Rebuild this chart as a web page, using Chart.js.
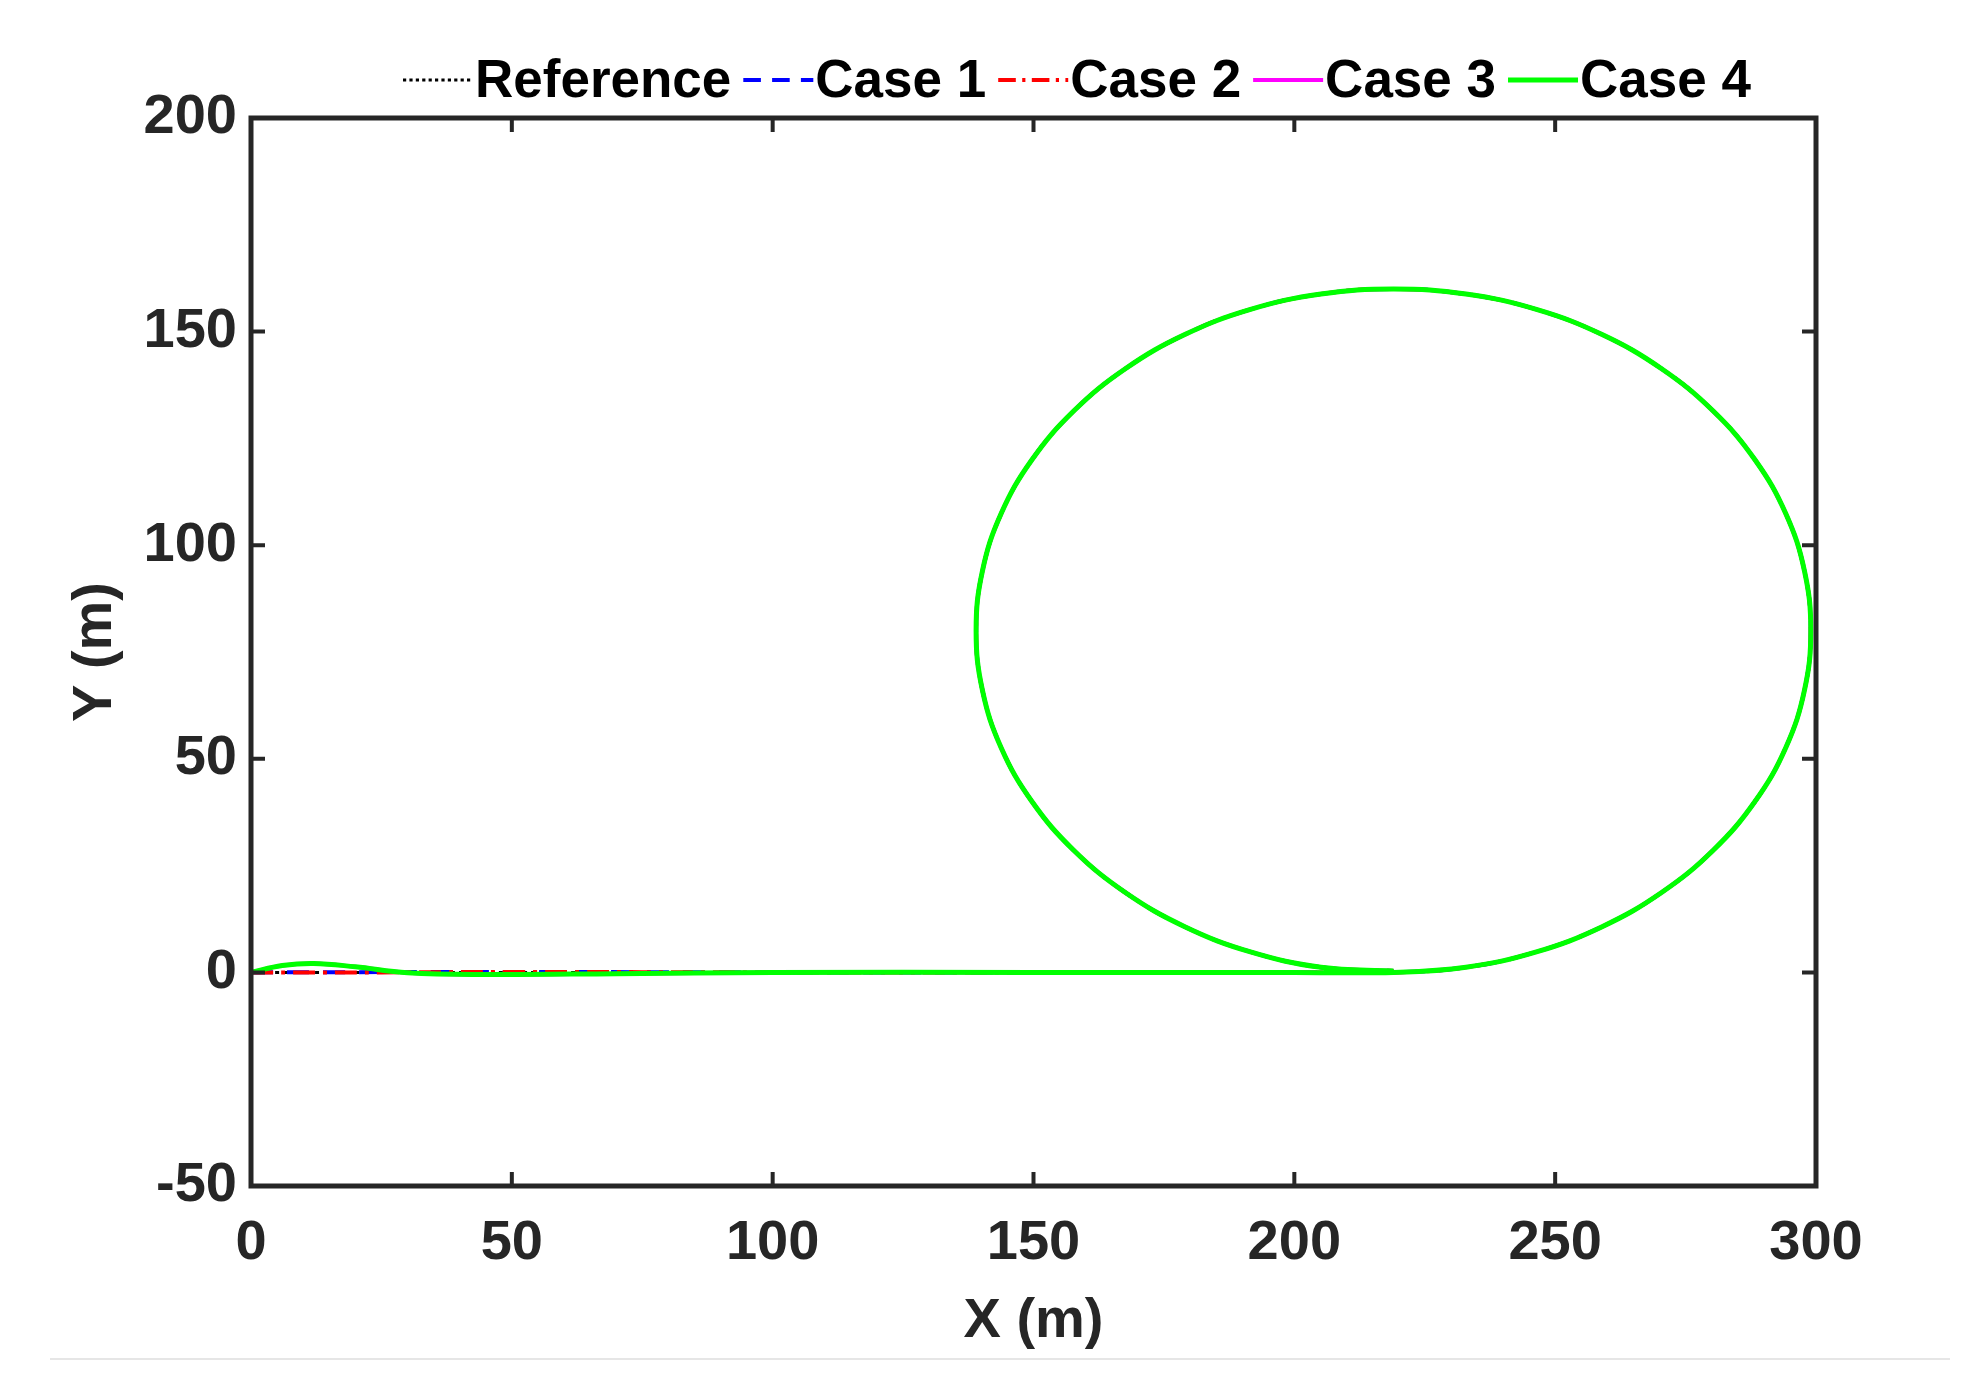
<!DOCTYPE html>
<html>
<head>
<meta charset="utf-8">
<script src="https://cdn.jsdelivr.net/npm/chart.js@4"></script>
<style>
  html, body { margin: 0; padding: 0; background: #fff; }
  #wrap { width: 1978px; height: 1391px; position: relative; }
</style>
</head>
<body>
<div id="wrap"><canvas id="pathChart"></canvas></div>
<script>
// ===================== DATA =====================
const seriesNames = ["Reference", "Case 1", "Case 2", "Case 3", "Case 4"];
const xTicks = [0, 50, 100, 150, 200, 250, 300];
const yTicks = [-50, 0, 50, 100, 150, 200];

// shared loop
const loopX = [219, 232.9, 246.4, 259, 270.4, 280.3, 288.3, 294.2, 297.8, 299,
               297.8, 294.2, 288.3, 280.3, 270.4, 259, 246.4, 232.9, 219,
               205.1, 191.6, 179, 167.6, 157.7, 149.7, 143.8, 140.2, 139,
               140.2, 143.8, 149.7, 157.7, 167.6, 179, 191.6, 205.1, 219];
const loopY = [0, 1.2, 4.8, 10.7, 18.7, 28.6, 40, 52.6, 66.1, 80,
               93.9, 107.4, 120, 131.4, 141.3, 149.3, 155.2, 158.8, 160,
               158.8, 155.2, 149.3, 141.3, 131.4, 120, 107.4, 93.9, 80,
               66.1, 52.6, 40, 28.6, 18.7, 10.7, 4.8, 1.2, 0.3];

// straight start segments
const refStartX = [0, 50, 100, 150, 200];
const refStartY = [0, 0, 0, 0, 0];
const case1StartX = [0, 50, 100, 150, 200];
const case1StartY = [0, 0.1, 0, 0, 0];
const case2StartX = [0, 25, 50, 100, 150, 200];
const case2StartY = [0, 0, 0.1, 0, 0, 0];
const case3StartX = [0, 6, 12, 20, 30, 45, 70, 100, 150, 200];
const case3StartY = [0, 1.6, 2.1, 1.3, -0.1, -0.5, -0.3, 0, 0, 0];
const case4StartX = [0, 6, 12, 20, 30, 45, 70, 100, 150, 200];
const case4StartY = [0, 1.6, 2.1, 1.3, -0.1, -0.5, -0.3, 0, 0, 0];

function toPoints(xs, ys) {
    const pts = xs.map((x, i) => ({ x: x, y: ys[i] }));
    return pts.concat(loopX.map((x, i) => ({ x: x, y: loopY[i] })));
}

const styles = [
    { color: "#000000", dash: [4, 4], width: 3 },
    { color: "#0000ff", dash: [22, 14], width: 4 },
    { color: "#ff0000", dash: [22, 8, 4, 8], width: 4 },
    { color: "#ff00ff", dash: [], width: 4 },
    { color: "#00ff00", dash: [], width: 5 }
];

const starts = [
    [refStartX, refStartY], [case1StartX, case1StartY], [case2StartX, case2StartY],
    [case3StartX, case3StartY], [case4StartX, case4StartY]
];

const FONT = "'Liberation Sans', Arial, sans-serif";
const PLOT = { left: 251, top: 118, right: 1816, bottom: 1186 };

// ===================== FRAME + LEGEND PLUGIN =====================
const framePlugin = {
    id: "frame",
    afterDraw(chart) {
        const ctx = chart.ctx;
        const a = chart.chartArea;
        const xs = chart.scales.x, ys = chart.scales.y;
        ctx.save();
        ctx.strokeStyle = "#262626";
        ctx.lineWidth = 5;
        ctx.setLineDash([]);
        ctx.strokeRect(a.left, a.top, a.right - a.left, a.bottom - a.top);
        ctx.lineWidth = 4;
        const tl = 14;
        xTicks.forEach(v => {
            const px = xs.getPixelForValue(v);
            ctx.beginPath();
            ctx.moveTo(px, a.bottom); ctx.lineTo(px, a.bottom - tl);
            ctx.moveTo(px, a.top); ctx.lineTo(px, a.top + tl);
            ctx.stroke();
        });
        yTicks.forEach(v => {
            const py = ys.getPixelForValue(v);
            ctx.beginPath();
            ctx.moveTo(a.left, py); ctx.lineTo(a.left + tl, py);
            ctx.moveTo(a.right, py); ctx.lineTo(a.right - tl, py);
            ctx.stroke();
        });

        // legend
        ctx.font = "bold 53px " + FONT;
        ctx.textBaseline = "middle";
        let x = 403;
        const ly = 80;
        seriesNames.forEach((name, i) => {
            const s = styles[i];
            ctx.strokeStyle = s.color;
            ctx.lineWidth = s.width;
            ctx.setLineDash(s.dash.length ? s.dash.map(d => d * 0.8) : []);
            ctx.beginPath();
            ctx.moveTo(x, ly); ctx.lineTo(x + 70, ly);
            ctx.stroke();
            ctx.setLineDash([]);
            ctx.fillStyle = "#000";
            ctx.fillText(name, x + 72, ly + 2);
            x += 72 + ctx.measureText(name).width + 12;
        });

        // faint bottom rule
        ctx.strokeStyle = "#e6e6e6";
        ctx.lineWidth = 2;
        ctx.beginPath();
        ctx.moveTo(50, 1359); ctx.lineTo(1950, 1359);
        ctx.stroke();
        ctx.restore();
    }
};

// ===================== CHART =====================
new Chart(document.getElementById("pathChart"), {
    type: "scatter",
    data: {
        datasets: seriesNames.map((name, i) => ({
            label: name,
            data: toPoints(starts[i][0], starts[i][1]),
            showLine: true,
            borderColor: styles[i].color,
            borderDash: styles[i].dash,
            borderWidth: styles[i].width,
            pointRadius: 0,
            tension: 0.4,
            order: 5 - i
        }))
    },
    options: {
        responsive: true,
        maintainAspectRatio: false,
        animation: false,
        layout: { padding: { top: PLOT.top, right: 1978 - PLOT.right, left: 58, bottom: 32 } },
        plugins: { legend: { display: false }, tooltip: { enabled: false } },
        scales: {
            x: {
                type: "linear", min: 0, max: 300,
                afterBuildTicks: s => { s.ticks = xTicks.map(v => ({ value: v })); },
                afterFit: s => { s.height = 1391 - 32 - PLOT.bottom; },
                grid: { display: false, drawTicks: false },
                border: { display: false },
                ticks: { color: "#262626", padding: 24, font: { family: FONT, size: 56, weight: "bold" } },
                title: { display: true, text: "X (m)", color: "#262626", padding: { top: 0 },
                         font: { family: FONT, size: 56, weight: "bold" } }
            },
            y: {
                type: "linear", min: -50, max: 200,
                afterBuildTicks: s => { s.ticks = yTicks.map(v => ({ value: v })); },
                afterFit: s => { s.width = PLOT.left - 58; },
                grid: { display: false, drawTicks: false },
                border: { display: false },
                ticks: { color: "#262626", padding: 14, font: { family: FONT, size: 56, weight: "bold" } },
                title: { display: true, text: "Y (m)", color: "#262626", padding: { bottom: 0 },
                         font: { family: FONT, size: 56, weight: "bold" } }
            }
        }
    },
    plugins: [framePlugin]
});
</script>
</body>
</html>
